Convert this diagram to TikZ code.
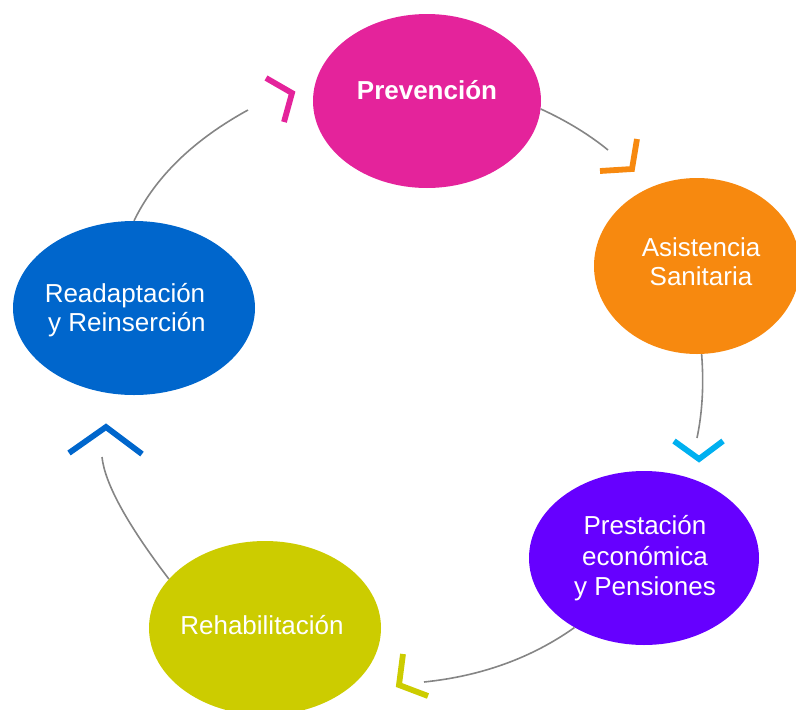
\documentclass[tikz,border=0pt]{standalone}
\usepackage{fontspec}
\setmainfont{Liberation Sans}
\usetikzlibrary{shapes.geometric}
\definecolor{cMag}{HTML}{E4239B}
\definecolor{cOra}{HTML}{F7890F}
\definecolor{cPur}{HTML}{6600FF}
\definecolor{cYel}{HTML}{CCCC00}
\definecolor{cBlu}{HTML}{0066CC}
\definecolor{cCya}{HTML}{00B0F0}
\definecolor{cArc}{HTML}{858585}
\begin{document}
\begin{tikzpicture}[x=1pt,y=-1pt,
  blob/.style={ellipse,draw=none,inner sep=0pt},
  lbl/.style={text=white,anchor=base,inner sep=0pt,font=\fontsize{26}{30}\selectfont},
  arcline/.style={draw=cArc,line width=1.6pt},
  chev/.style={line width=5.8pt,line join=miter,line cap=butt}]
\useasboundingbox (0,0) rectangle (796,710);
\clip (0,0) rectangle (796,710);
% ellipses
\node[blob,fill=cMag,minimum width=228pt,minimum height=174pt] (prev) at (427,101) {};
\node[blob,fill=cOra,minimum width=206pt,minimum height=176pt] (asis) at (697,266) {};
\node[blob,fill=cPur,minimum width=230pt,minimum height=174pt] (pres) at (644,558) {};
\node[blob,fill=cYel,minimum width=232pt,minimum height=174pt] (rehab) at (265,628) {};
\node[blob,fill=cBlu,minimum width=242pt,minimum height=174pt] (read) at (134,308) {};
% labels
\node[lbl,font=\fontsize{26}{30}\selectfont\bfseries] (tprev) at (427,99) {Prevención};
\node[lbl] (tasis1) at (701,256) {Asistencia};
\node[lbl] (tasis2) at (701,285) {Sanitaria};
\node[lbl] (tpres1) at (645,534) {Prestación};
\node[lbl] (tpres2) at (645,565) {económica};
\node[lbl] (tpres3) at (645,595) {y Pensiones};
\node[lbl] (trehab) at (262,634) {Rehabilitación};
\node[lbl] (tread1) at (125,302) {Readaptación};
\node[lbl] (tread2) at (127,331) {y Reinserción};
% arc ends
\coordinate (e1) at (608,150);
\coordinate (e2) at (697,438);
\coordinate (e3) at (424,682);
\coordinate (e4) at (102,457);
\coordinate (e5) at (248,110);
% arcs
\draw[arcline] (prev.-4) .. controls (567.7,121.3) and (590,135.3) .. (e1);
\draw[arcline] (asis.-87) .. controls (704,384.7) and (702.3,412.7) .. (e2);
\draw[arcline] (pres.225) .. controls (532,657.7) and (482,676) .. (e3);
\draw[arcline] (rehab.153) .. controls (126.7,523.7) and (104.7,483) .. (e4);
\draw[arcline] (read.90) .. controls (155.3,177) and (193.3,140) .. (e5);
% chevrons
\draw[chev,cMag] (266,78) -- (292,93) -- (284,122);
\draw[chev,cOra] (637,139) -- (632,169) -- (600,171);
\draw[chev,cCya] (674,441) -- (699,459) -- (723,441);
\draw[chev,cYel] (403,654) -- (399,685) -- (428,696);
\draw[chev,cBlu] (69,453) -- (106,427) -- (142,454);
\end{tikzpicture}
\end{document}
